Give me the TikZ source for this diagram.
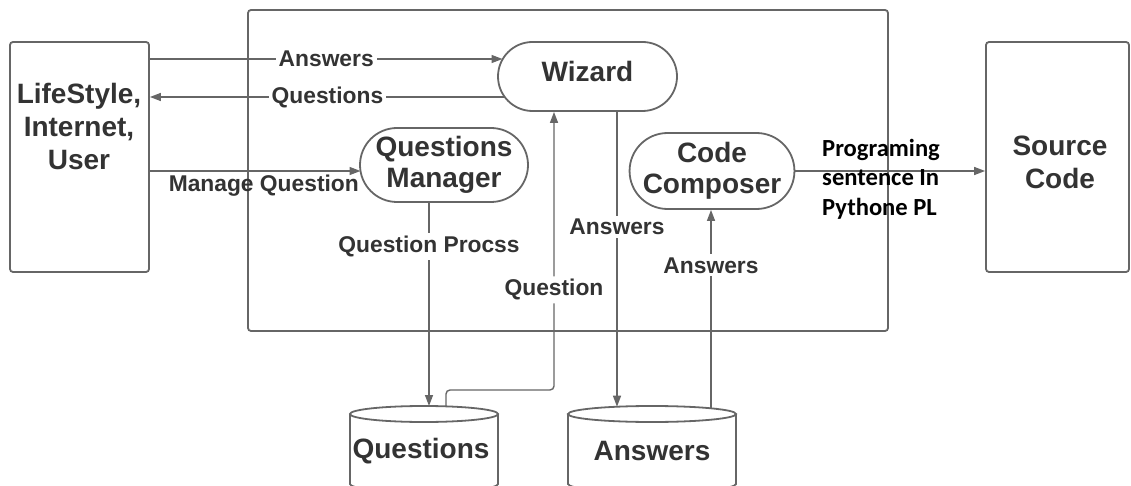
\documentclass[tikz,border=0pt]{standalone}
\usepackage{fontspec}
\setmainfont{Liberation Sans}
\newfontfamily\calib{Carlito}
\usetikzlibrary{arrows.meta,shapes.misc,calc}
\definecolor{ln}{HTML}{666666}
\definecolor{tx}{HTML}{333333}
\begin{document}
\begin{tikzpicture}[x=1pt,y=-1pt,
  box/.style={draw=ln, line width=1.8pt, rounded corners=3pt, inner sep=0},
  pill/.style={draw=ln, line width=1.8pt, rounded rectangle, inner sep=0, text=tx, align=center,
    font=\bfseries\fontsize{28}{31.5}\selectfont},
  big/.style={text=tx, align=center, inner sep=0, font=\bfseries\fontsize{28}{33}\selectfont},
  lbl/.style={text=tx, fill=white, inner sep=3pt, font=\bfseries\fontsize{22.8}{26}\selectfont},
  arr/.style={draw=ln, line width=1.4pt, -{Triangle[length=11pt,width=8pt]}},
  cyl/.style={draw=ln, line width=1.8pt},
  prog/.style={text=black, align=left, inner sep=0, font=\calib\bfseries\fontsize{24.6}{29.5}\selectfont}]
\useasboundingbox (0,0) rectangle (1131,486);

% boxes
\node[box, minimum width=139, minimum height=230] (lb) at (79.5,157) {};
\node[big] (lbt) at (79,126) {LifeStyle,\\Internet,\\User};
\node[box, minimum width=640, minimum height=321] (sys) at (568,170.5) {};
\node[box, minimum width=143, minimum height=230] (sc) at (1057.5,157) {};
\node[big] (sct) at (1060,162) {Source\\Code};

% pills
\node[pill, minimum width=179, minimum height=69, text height=20, text depth=9] (wiz) at (587.5,76.5) {Wizard};
\node[pill, minimum width=168, minimum height=74] (qm) at (444,165) {Questions\\Manager};
\node[pill, minimum width=154, minimum height=76] (cc) at (712,171) {Code\\Composer};

% cylinders
\coordinate (qtop) at (424,414);
\coordinate (atop) at (652,414);
\draw[cyl] (qtop) ellipse[x radius=74pt, y radius=8pt];
\draw[cyl] ($(qtop)+(-74,0)$) -- ++(0,70) arc[start angle=180, end angle=360, x radius=74pt, y radius=8pt] -- ++(0,-70);
\draw[cyl] (atop) ellipse[x radius=84pt, y radius=8pt];
\draw[cyl] ($(atop)+(-84,0)$) -- ++(0,70) arc[start angle=180, end angle=360, x radius=84pt, y radius=8pt] -- ++(0,-70);
\node[big] (qdb) at (421,451) {Questions};
\node[big] (adb) at (652,451) {Answers};

% connectors
\draw[arr] (lb.east |- 0,59) -- node[lbl, pos=0.5] {Answers} ($(wiz.center)+(-85,-17.5)$);
\draw[arr] ($(wiz.center)+(-82.5,20.5)$) -- node[lbl, pos=0.5] {Questions} (lb.east |- 0,97);
\draw[arr] (lb.east |- 0,171) -- ($(qm.center)+(-83.5,6)$);
\node[lbl, fill=none, anchor=east, inner sep=0] (mq) at (359,186) {Manage Question};
\draw[arr] (qm.south -| 429,0) -- node[lbl, pos=0.215] {Question Procss} ($(qtop)+(5,-8)$);
\draw[arr, rounded corners=4pt] ($(qtop)+(22,-7.5)$) -- (446,390) -- (554,390) -- node[lbl, pos=0.36] {Question} (wiz.south -| 554,0);
\draw[arr] (wiz.south -| 617,0) -- node[lbl, pos=0.39] {Answers} ($(atop)+(-35,-7.3)$);
\draw[arr] ($(atop)+(59,-5.7)$) -- node[lbl, pos=0.72] {Answers} (cc.south -| 711,0);
\draw[arr] (cc.east) -- (sc.west |- cc.east);
\node[prog, anchor=west] (pt) at (822,179) {Programing\\sentence In\\Pythone PL};
\end{tikzpicture}
\end{document}
